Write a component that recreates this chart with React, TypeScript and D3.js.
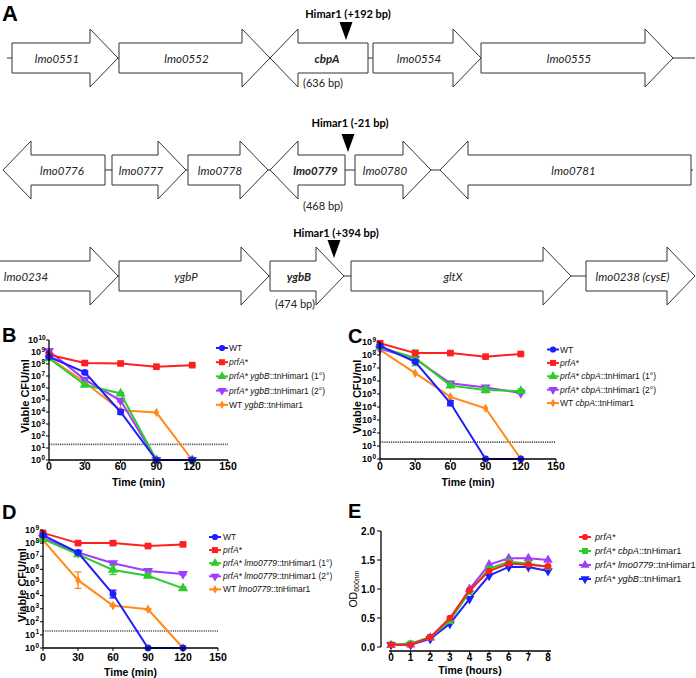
import React from "react";
import * as d3 from "d3";

const FONT = "'Liberation Sans', Arial, Helvetica, sans-serif";
const GENEFONT = "Lato, 'Open Sans', sans-serif";

// ---------------- Panel A: gene maps (map units) ----------------
const row1Genes = [
  { name: "lmo0551", tail: 12, tip: 118 },
  { name: "lmo0552", tail: 119, tip: 270 },
  { name: "cbpA", tail: 368, tip: 270, bold: true },
  { name: "lmo0554", tail: 373, tip: 481 },
  { name: "lmo0555", tail: 481, tip: 673 },
];
const row2Genes = [
  { name: "lmo0776", tail: 105, tip: 3 },
  { name: "lmo0777", tail: 112, tip: 186 },
  { name: "lmo0778", tail: 188, tip: 268 },
  { name: "lmo0779", tail: 345, tip: 270, bold: true },
  { name: "lmo0780", tail: 355, tip: 431 },
  { name: "lmo0781", tail: 691, tip: 440 },
];
const row3Genes = [
  { name: "lmo0234", tail: -50, tip: 118 },
  { name: "ygbP", tail: 119, tip: 269 },
  { name: "ygbB", tail: 270, tip: 344, bold: true },
  { name: "gltX", tail: 351, tip: 571 },
  { name: "lmo0238 (cysE)", tail: 586, tip: 695 },
];
const backbones = [[7, 695], [3, 693], [0, 695]];
const insertionSites = [346, 348, 334];
const insertionLabels = ["Himar1 (+192 bp)", "Himar1 (-21 bp)", "Himar1 (+394 bp)"];
const geneSizeLabels = ["(636 bp)", "(468 bp)", "(474 bp)"];

// ---------------- Panels B-D: kill curves (CFU/ml) ----------------
const killTimes = [0, 30, 60, 90, 120];
const timeTicks = [0, 30, 60, 90, 120, 150];
const detectionLimit = 20;

// B
const bWT = [4e8, 2e7, 1e4, 1, 1];
const bPrfA = [6e8, 1.2e8, 1.1e8, 6e7, 8e7];
const bYgbB1 = [3e8, 1.8e6, 3.5e5, 1, 1];
const bYgbB2 = [1.2e9, 5e6, 9e4, 1, 1];
const bWTygbB = [3.5e8, 3e6, 1.4e4, 9e3, 1];
const bWTErr = [0.1, 0.1, 0.2, 0, 0];
const bPrfAErr = [0.1, 0.08, 0.08, 0.08, 0.08];
const bYgbB1Err = [0, 0.08, 0.08, 0, 0];
const bYgbB2Err = [0.15, 0.1, 0.1, 0, 0];
const bWTygbBErr = [0, 0, 0, 0, 0];

// C
const cWT = [5e8, 3e7, 2e4, 1, 1];
const cPrfA = [8e8, 1.4e8, 1.4e8, 7.5e7, 1.2e8];
const cCbpA1 = [4e8, 6e7, 4.4e5, 2e5, 1.7e5];
const cCbpA2 = [3e8, 5e7, 6.6e5, 3.2e5, 1.2e5];
const cWTcbpA = [2.5e8, 4e6, 6e4, 8e3, 1];
const cWTErr = [0.1, 0.1, 0.2, 0, 0];
const cPrfAErr = [0.08, 0.1, 0.12, 0.08, 0.08];
const cCbpA1Err = [0.08, 0.6, 0.08, 0.2, 0.15];
const cCbpA2Err = [0, 0.1, 0.08, 0.1, 0.05];
const cWTcbpAErr = [0, 0, 0, 0, 0];

// D
const dWT = [4e8, 1.9e7, 1.3e4, 1, 1];
const dPrfA = [6e8, 1e8, 1e8, 6e7, 8e7];
const dLmo1 = [2e8, 1.4e7, 9e5, 3.2e5, 3.5e4];
const dLmo2 = [2.5e8, 1.9e7, 2.9e6, 7.6e5, 4.5e5];
const dWTlmo = [1.7e8, 1.5e5, 1.7e3, 9e2, 1];
const dWTErr = [0.1, 0.08, 0.3, 0, 0];
const dPrfAErr = [0.08, 0.08, 0.15, 0.08, 0.08];
const dLmo1Err = [0.15, 0.08, 0.35, 0.1, 0.1];
const dLmo2Err = [0, 0.08, 0.1, 0.15, 0.08];
const dWTlmoErr = [0.1, 0.63, 0.05, 0.05, 0];

// ---------------- Panel E: growth (OD600) ----------------
const growthHours = [0, 1, 2, 3, 4, 5, 6, 7, 8];
const odTicks = [0, 0.5, 1.0, 1.5, 2.0];
const ePrfA = [0.04, 0.04, 0.17, 0.5, 0.98, 1.31, 1.44, 1.42, 1.39];
const eCbpA = [0.04, 0.06, 0.17, 0.45, 0.95, 1.35, 1.47, 1.44, 1.38];
const eLmo0779 = [0.03, 0.04, 0.16, 0.45, 1.0, 1.42, 1.53, 1.53, 1.5];
const eYgbB = [0.04, 0.04, 0.14, 0.4, 0.83, 1.23, 1.38, 1.38, 1.31];

const BLUE = "#1e1eff";
const RED = "#ff1f1f";
const GREEN = "#2ecb2e";
const PURPLE = "#a03cff";
const ORANGE = "#ff8a1a";

type Seg = [string, boolean];
type Series = { label: Seg[]; color: string; shape: string; values: number[]; err?: number[] };

function killSeries(gene: string, wt: number[], prfA: number[], m1: number[], m2: number[], wtm: number[], errs: number[][]): Series[] {
  return [
    { label: [["WT", false]], color: BLUE, shape: "circle", values: wt, err: errs[0] },
    { label: [["prfA*", true]], color: RED, shape: "square", values: prfA, err: errs[1] },
    { label: [["prfA* ", true], [gene, true], ["::tnHimar1 (1°)", false]], color: GREEN, shape: "triUp", values: m1, err: errs[2] },
    { label: [["prfA* ", true], [gene, true], ["::tnHimar1 (2°)", false]], color: PURPLE, shape: "triDown", values: m2, err: errs[3] },
    { label: [["WT ", false], [gene, true], ["::tnHimar1", false]], color: ORANGE, shape: "diamond", values: wtm, err: errs[4] },
  ];
}

const seriesB = killSeries("ygbB", bWT, bPrfA, bYgbB1, bYgbB2, bWTygbB, [bWTErr, bPrfAErr, bYgbB1Err, bYgbB2Err, bWTygbBErr]);
const seriesC = killSeries("cbpA", cWT, cPrfA, cCbpA1, cCbpA2, cWTcbpA, [cWTErr, cPrfAErr, cCbpA1Err, cCbpA2Err, cWTcbpAErr]);
const seriesD = killSeries("lmo0779", dWT, dPrfA, dLmo1, dLmo2, dWTlmo, [dWTErr, dPrfAErr, dLmo1Err, dLmo2Err, dWTlmoErr]);

const seriesE: Series[] = [
  { label: [["prfA*", true]], color: RED, shape: "circle", values: ePrfA },
  { label: [["prfA* ", true], ["cbpA", true], ["::tnHimar1", false]], color: GREEN, shape: "square", values: eCbpA },
  { label: [["prfA* ", true], ["lmo0779", true], ["::tnHimar1", false]], color: PURPLE, shape: "triUp", values: eLmo0779 },
  { label: [["prfA* ", true], ["ygbB", true], ["::tnHimar1", false]], color: BLUE, shape: "triDown", values: eYgbB },
];

function Marker({ shape, x, y, color, size = 44 }: { shape: string; x: number; y: number; color: string; size?: number }) {
  const type =
    shape === "circle" ? d3.symbolCircle :
    shape === "square" ? d3.symbolSquare :
    shape === "diamond" ? d3.symbolDiamond : d3.symbolTriangle;
  const sz = shape === "diamond" ? size * 0.6 : shape === "circle" ? size * 0.85 : size;
  const d = d3.symbol().type(type).size(sz)() as string;
  const rot = shape === "triDown" ? 180 : 0;
  return <path d={d} transform={`translate(${x},${y}) rotate(${rot})`} fill={color} />;
}

function LegendLabel({ x, y, segs, size }: { x: number; y: number; segs: Seg[]; size: number }) {
  return (
    <text x={x} y={y} fontSize={size} dominantBaseline="central" fill="#111">
      {segs.map((s, i) => (
        <tspan key={i} fontStyle={s[1] ? "italic" : "normal"}>{s[0]}</tspan>
      ))}
    </text>
  );
}

function GeneRow({ genes, cy, backbone, site, siteLabel, sizeLabel, labelY, sizeDy }: any) {
  const mx = d3.scaleLinear().domain([0, 696]).range([0, 696]);
  const bodyH = 15;
  const headH = 29;
  const headLen = 28;
  return (
    <g>
      <line x1={mx(backbone[0])} x2={mx(backbone[1])} y1={cy} y2={cy} stroke="#333" strokeWidth={1} />
      {genes.map((g: any) => {
        const t = mx(g.tail), p = mx(g.tip);
        const dir = p > t ? 1 : -1;
        const base = p - dir * headLen;
        const path = `M${t},${cy - bodyH}L${base},${cy - bodyH}L${base},${cy - headH}L${p},${cy}L${base},${cy + headH}L${base},${cy + bodyH}L${t},${cy + bodyH}Z`;
        const bodyCenter = (t + base) / 2 + dir * 6;
        const bodyLeft = Math.min(t, base);
        return (
          <g key={g.name}>
            <path d={path} fill="#fff" stroke="#333" strokeWidth={1} />
            <text x={bodyCenter} y={cy} textAnchor="middle" dominantBaseline="central" fontFamily={GENEFONT}
              fontStyle="italic" fontWeight={g.bold ? "bold" : "normal"} fontSize={11.5} fill="#222">{g.name}</text>
            {g.bold && (
              <text x={bodyLeft + 5} y={cy + bodyH + sizeDy} dominantBaseline="central" fontFamily={GENEFONT}
                fontSize={11} fill="#222">{sizeLabel}</text>
            )}
          </g>
        );
      })}
      <path d={`M${mx(site) - 6.5},${cy - 36}L${mx(site) + 6.5},${cy - 36}L${mx(site)},${cy - 18}Z`} fill="#000" />
      <text x={mx(site) + 2} y={labelY} textAnchor="middle" dominantBaseline="central" fontFamily={GENEFONT}
        fontWeight="bold" fontSize={11} fill="#000">{siteLabel}</text>
    </g>
  );
}

function KillPanel({ series, xr, yr, maxExp, xLabelY, xTitleY, yTitleX, legend }: any) {
  const x = d3.scaleLinear().domain([0, 150]).range(xr);
  const y = d3.scaleLog().domain([1, Math.pow(10, maxExp)]).range(yr);
  const line = d3.line<number>().x((_, i) => x(killTimes[i])).y((v) => y(v));
  const exps = d3.range(0, maxExp + 1);
  return (
    <g>
      <line x1={x(0)} x2={x(150)} y1={y(detectionLimit)} y2={y(detectionLimit)} stroke="#555" strokeWidth={1.6} strokeDasharray="1.2 1" />
      {[...series].reverse().map((s: Series, k: number) => (
        <g key={k}>
          <path d={line(s.values) as string} fill="none" stroke={s.color} strokeWidth={2} />
          {s.values.map((v, i) =>
            s.err && s.err[i] > 0 ? (
              <g key={"e" + i} stroke={s.color} strokeWidth={1.3}>
                <line x1={x(killTimes[i])} x2={x(killTimes[i])} y1={y(v * Math.pow(10, s.err[i]))} y2={y(Math.max(1, v / Math.pow(10, s.err[i])))} />
                <line x1={x(killTimes[i]) - 3.5} x2={x(killTimes[i]) + 3.5} y1={y(v * Math.pow(10, s.err[i]))} y2={y(v * Math.pow(10, s.err[i]))} />
                <line x1={x(killTimes[i]) - 3.5} x2={x(killTimes[i]) + 3.5} y1={y(Math.max(1, v / Math.pow(10, s.err[i])))} y2={y(Math.max(1, v / Math.pow(10, s.err[i])))} />
              </g>
            ) : null
          )}
          {s.values.map((v, i) => (
            <Marker key={i} shape={s.shape} x={x(killTimes[i])} y={y(v)} color={s.color} />
          ))}
        </g>
      ))}
      {/* axes */}
      <line x1={xr[0]} x2={xr[0]} y1={yr[0]} y2={yr[1]} stroke="#000" strokeWidth={1.3} />
      <line x1={xr[0]} x2={xr[1]} y1={yr[0]} y2={yr[0]} stroke="#000" strokeWidth={1.3} />
      {exps.map((e) => (
        <g key={e}>
          <line x1={xr[0] - 3} x2={xr[0]} y1={y(Math.pow(10, e))} y2={y(Math.pow(10, e))} stroke="#000" strokeWidth={1} />
          <text x={xr[0] - (e >= 10 ? 11 : 8)} y={y(Math.pow(10, e)) + 3.2} textAnchor="end" fontSize={9} fontWeight="bold">10</text>
          <text x={xr[0] - (e >= 10 ? 10.5 : 7.5)} y={y(Math.pow(10, e)) - 0.5} textAnchor="start" fontSize={6.5} fontWeight="bold">{e}</text>
        </g>
      ))}
      {timeTicks.map((t) => (
        <g key={t}>
          <line x1={x(t)} x2={x(t)} y1={yr[0]} y2={yr[0] + 3} stroke="#000" strokeWidth={1} />
          <text x={x(t)} y={xLabelY} textAnchor="middle" dominantBaseline="central" fontSize={10.5} fontWeight="bold">{t}</text>
        </g>
      ))}
      <text x={(xr[0] + xr[1]) / 2} y={xTitleY} textAnchor="middle" dominantBaseline="central" fontSize={10.5} fontWeight="bold">Time (min)</text>
      <text transform={`translate(${yTitleX},${(yr[0] + yr[1]) / 2 - 4}) rotate(-90)`} textAnchor="middle" dominantBaseline="central" fontSize={11} fontWeight="bold">Viable CFU/ml</text>
      {series.map((s: Series, i: number) => {
        const ly = legend.y0 + i * legend.dy;
        return (
          <g key={"l" + i}>
            <line x1={legend.mx - 6} x2={legend.mx + 6} y1={ly} y2={ly} stroke={s.color} strokeWidth={2} />
            <Marker shape={s.shape} x={legend.mx} y={ly} color={s.color} size={36} />
            <LegendLabel x={legend.tx} y={ly} segs={s.label} size={8.5} />
          </g>
        );
      })}
    </g>
  );
}

function GrowthPanel() {
  const x = d3.scaleLinear().domain([0, 8]).range([391, 548]);
  const y = d3.scaleLinear().domain([0, 2]).range([647, 531]);
  const yAxisX = 381;
  const xAxisY = 651;
  const line = d3.line<number>().x((_, i) => x(growthHours[i])).y((v) => y(v));
  return (
    <g>
      {[...seriesE].reverse().map((s, k) => (
        <g key={k}>
          <path d={line(s.values) as string} fill="none" stroke={s.color} strokeWidth={2} />
          {s.values.map((v, i) => (
            <Marker key={i} shape={s.shape} x={x(growthHours[i])} y={y(v)} color={s.color} size={40} />
          ))}
        </g>
      ))}
      <line x1={yAxisX} x2={yAxisX} y1={y(0)} y2={y(2)} stroke="#000" strokeWidth={1.3} />
      {odTicks.map((t) => (
        <g key={t}>
          <line x1={yAxisX - 4} x2={yAxisX} y1={y(t)} y2={y(t)} stroke="#000" strokeWidth={1} />
          <text x={yAxisX - 6} y={y(t)} textAnchor="end" dominantBaseline="central" fontSize={10} fontWeight="bold">{t.toFixed(1)}</text>
        </g>
      ))}
      <line x1={x(0) - 2} x2={x(8) + 3} y1={xAxisY} y2={xAxisY} stroke="#000" strokeWidth={1.3} />
      {growthHours.map((h) => (
        <g key={h}>
          <line x1={x(h)} x2={x(h)} y1={xAxisY} y2={xAxisY + 4} stroke="#000" strokeWidth={1} />
          <text x={x(h)} y={657.5} textAnchor="middle" dominantBaseline="central" fontSize={10} fontWeight="bold">{h}</text>
        </g>
      ))}
      <text x={470} y={670} textAnchor="middle" dominantBaseline="central" fontSize={10.5} fontWeight="bold">Time (hours)</text>
      <text transform={`translate(353,589) rotate(-90)`} textAnchor="middle" dominantBaseline="central" fontSize={10.5}>
        OD<tspan fontSize={7} dy={3}>600nm</tspan>
      </text>
      {seriesE.map((s, i) => {
        const ly = 537 + i * 14;
        return (
          <g key={"l" + i}>
            <line x1={579} x2={591} y1={ly} y2={ly} stroke={s.color} strokeWidth={2} />
            <Marker shape={s.shape} x={585} y={ly} color={s.color} size={36} />
            <LegendLabel x={595} y={ly} segs={s.label} size={9.2} />
          </g>
        );
      })}
    </g>
  );
}

export default function App() {
  return (
    <svg width={696} height={678} style={{ position: "absolute", left: 0, top: 0, background: "#fff" }} fontFamily={FONT}>
      <rect width={696} height={678} fill="#fff" />
      <text x={2} y={21} fontSize={22} fontWeight="bold">A</text>
      <GeneRow genes={row1Genes} cy={58} backbone={backbones[0]} site={insertionSites[0]} siteLabel={insertionLabels[0]} sizeLabel={geneSizeLabels[0]} labelY={13} sizeDy={9} />
      <GeneRow genes={row2Genes} cy={170} backbone={backbones[1]} site={insertionSites[1]} siteLabel={insertionLabels[1]} sizeLabel={geneSizeLabels[1]} labelY={122} sizeDy={20} />
      <GeneRow genes={row3Genes} cy={276} backbone={backbones[2]} site={insertionSites[2]} siteLabel={insertionLabels[2]} sizeLabel={geneSizeLabels[2]} labelY={232} sizeDy={12} />

      <text x={2} y={342} fontSize={20} fontWeight="bold">B</text>
      <KillPanel series={seriesB} xr={[49, 228]} yr={[460, 340]} maxExp={10} xLabelY={466} xTitleY={482} yTitleX={25}
        legend={{ mx: 222, tx: 229, y0: 348, dy: 14.2 }} />

      <text x={348} y={343} fontSize={20} fontWeight="bold">C</text>
      <KillPanel series={seriesC} xr={[380, 556]} yr={[459, 342]} maxExp={9} xLabelY={466} xTitleY={482} yTitleX={357}
        legend={{ mx: 553, tx: 560, y0: 349.5, dy: 13.4 }} />

      <text x={2} y={519} fontSize={20} fontWeight="bold">D</text>
      <KillPanel series={seriesD} xr={[43, 218]} yr={[648, 530]} maxExp={9} xLabelY={656.5} xTitleY={672} yTitleX={22}
        legend={{ mx: 215, tx: 223, y0: 537, dy: 13.1 }} />

      <text x={348} y={518} fontSize={20} fontWeight="bold">E</text>
      <GrowthPanel />
    </svg>
  );
}
